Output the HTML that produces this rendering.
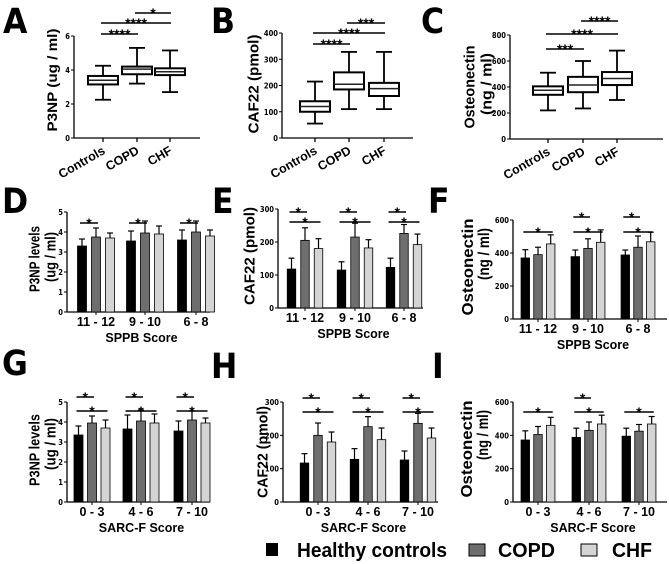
<!DOCTYPE html>
<html><head><meta charset="utf-8"><style>
body{margin:0;background:#fff;}
svg{display:block;font-family:"DejaVu Sans Condensed","Liberation Sans",sans-serif;}
.big{font-family:"DejaVu Sans Condensed","Liberation Sans",sans-serif;font-weight:bold;font-size:35px;}
.tk{font-size:7.5px;font-weight:bold;}
.xl{font-family:"Liberation Sans",sans-serif;font-size:12.5px;font-weight:bold;}
.yl{font-family:"Liberation Sans",sans-serif;font-weight:bold;}
.st{font-family:"Liberation Sans",sans-serif;font-size:14px;font-weight:bold;}
</style></head><body>
<svg id="fig" width="669" height="564" viewBox="0 0 669 564" xmlns="http://www.w3.org/2000/svg">
<text class="big" x="3" y="33">A</text>
<text class="big" x="211" y="33">B</text>
<text class="big" x="421" y="33">C</text>
<text class="big" x="2" y="213">D</text>
<text class="big" x="212" y="213">E</text>
<text class="big" x="428" y="213">F</text>
<text class="big" x="2" y="375">G</text>
<text class="big" x="211" y="378">H</text>
<text class="big" x="432" y="378">I</text>
<g font-family="'Liberation Sans',sans-serif" font-weight="bold" font-size="20">
<rect x="266" y="543" width="12" height="13" fill="#000"/>
<text x="297" y="557" textLength="150" lengthAdjust="spacingAndGlyphs">Healthy controls</text>
<rect x="469" y="544" width="16" height="12" fill="#6e6e6e" stroke="#000"/>
<text x="498" y="557" textLength="57" lengthAdjust="spacingAndGlyphs">COPD</text>
<rect x="581" y="544" width="16" height="12" fill="#d4d4d4" stroke="#000"/>
<text x="612" y="557" textLength="40" lengthAdjust="spacingAndGlyphs">CHF</text>
</g>
</svg>
<script>
// ---- box plot data: [whiskerLow, q1, median, q3, whiskerHigh]
const boxCats = ["Controls","COPD","CHF"];
const aBoxes = [[2.25,3.15,3.4,3.65,4.25],[3.2,3.75,4.05,4.2,5.3],[2.7,3.7,3.9,4.1,5.15]];
const bBoxes = [[55,100,120,140,215],[110,185,205,250,328],[110,160,188,210,328]];
const cBoxes = [[220,340,375,405,510],[235,360,415,478,600],[300,415,465,515,680]];
const aTicks = [0,2,4,6];
const bTicks = [0,100,200,300,400];
const cTicks = [0,200,400,600,800];
// ---- bar data per group: [controls, COPD, CHF]
const sppbCats = ["11 - 12","9 - 10","6 - 8"];
const sarcCats = ["0 - 3","4 - 6","7 - 10"];
const dMeans = [[3.3,3.75,3.7],[3.55,3.95,3.9],[3.6,4.0,3.8]];
const dErr = [[0.35,0.45,0.25],[0.5,0.6,0.4],[0.5,0.55,0.3]];
const eMeans = [[118,205,180],[115,215,182],[123,226,192]];
const eErr = [[33,38,30],[25,42,25],[28,27,32]];
const fMeans = [[370,390,455],[378,428,465],[388,435,468]];
const fErr = [[50,45,55],[40,58,75],[30,68,58]];
const gMeans = [[3.35,3.95,3.7],[3.65,4.05,3.95],[3.55,4.1,3.95]];
const gErr = [[0.45,0.35,0.4],[0.7,0.55,0.45],[0.5,0.45,0.25]];
const hMeans = [[117,200,180],[128,226,187],[126,236,192]];
const hErr = [[28,37,30],[32,30,35],[27,30,30]];
const iMeans = [[372,405,460],[388,430,468],[395,425,468]];
const iErr = [[55,48,48],[55,50,53],[48,40,45]];
const pTicks = [0,1,2,3,4,5];
const cafTicks = [0,100,200,300];
const ostTicks = [0,200,400,600];

const NS="http://www.w3.org/2000/svg";
const fig=document.getElementById('fig');
function mk(tag,attrs,parent,txt){const e=document.createElementNS(NS,tag);for(const k in attrs)e.setAttribute(k,attrs[k]);if(txt!==undefined)e.textContent=txt;(parent||fig).appendChild(e);return e;}

function axes(p,ticks,g){
  const y=v=>p.yb-v/p.ymax*(p.yb-p.yt);
  const ax=mk('line',{x1:p.x0,y1:p.yt,x2:p.x0,y2:p.yb,stroke:'#000','stroke-width':1.3},g);
  
  
  const bx=mk('line',{x1:p.x0,y1:p.yb,x2:p.x1,y2:p.yb,stroke:'#000','stroke-width':1.3},g);
  
  
  ticks.forEach(t=>{
    mk('line',{x1:p.x0-3,y1:y(t),x2:p.x0,y2:y(t),stroke:'#000','stroke-width':1},g);
    const tl=mk('text',{x:p.x0-4,y:y(t)+3,'text-anchor':'end',class:'tk'},g,t);
    
    
  });
  return y;
}
// labels: [text, centerX, centerY, length, fontSize]
function ylabel(g,labels){
  labels.forEach(L=>{
    const bx=L[1]+L[4]*0.36;
    const t=mk('text',{x:bx,y:L[2],class:'yl','font-size':L[4],'text-anchor':'middle',textLength:L[3],lengthAdjust:'spacingAndGlyphs',transform:`rotate(-90 ${bx} ${L[2]})`},g,L[0]);
    
    
  });
}
function sig(g,x1,x2,yy,stars){
  const l=mk('line',{x1:x1,y1:yy,x2:x2,y2:yy,stroke:'#000','stroke-width':1.6},g);
  
  
  const t=mk('text',{x:(x1+x2)/2,y:yy+5,'text-anchor':'middle',class:'st'},g,stars);
  
  
}
function boxPanel(name,p,boxes,ticks,cx,ylabs,sigs){
  const g=mk('g',{});
  
  
  const y=axes(p,ticks,g);
  ylabel(g,ylabs);
  boxes.forEach((b,i)=>{
    const x=cx[i],w=15;
    mk('line',{x1:x,y1:y(b[0]),x2:x,y2:y(b[4]),stroke:'#000','stroke-width':1.8},g);
    mk('line',{x1:x-8,y1:y(b[0]),x2:x+8,y2:y(b[0]),stroke:'#000','stroke-width':1.8},g);
    mk('line',{x1:x-8,y1:y(b[4]),x2:x+8,y2:y(b[4]),stroke:'#000','stroke-width':1.8},g);
    const r=mk('rect',{x:x-w,y:y(b[3]),width:2*w,height:y(b[1])-y(b[3]),fill:'#fff',stroke:'#000','stroke-width':2},g);
    
    
    mk('line',{x1:x-w,y1:y(b[2]),x2:x+w,y2:y(b[2]),stroke:'#222','stroke-width':1.5},g);
    mk('line',{x1:x,y1:p.yb,x2:x,y2:p.yb+4,stroke:'#000','stroke-width':1.3},g);
    const t=mk('text',{x:x+3,y:p.yb+15,'text-anchor':'end',class:'xl',transform:`rotate(-30 ${x+3} ${p.yb+15})`},g,boxCats[i]);
    
    
  });
  sigs.forEach(s=>sig(g,cx[s[0]]-2,cx[s[1]]+1,s[2],s[3]));
}
const fills=['#000','#6e6e6e','#d4d4d4'];
const grpNames=['controls','copd','chf'];
function barPanel(name,p,means,errs,cats,ticks,gx,bw,gap,ylabs,xtitle,sigs){
  const g=mk('g',{});
  
  
  const y=axes(p,ticks,g);
  ylabel(g,ylabs);
  const bxc=(gi,k)=>gx[gi]+(k-1)*gap;
  means.forEach((grp,gi)=>{
    grp.forEach((m,k)=>{
      const x=bxc(gi,k);
      mk('line',{x1:x,y1:y(m),x2:x,y2:y(m+errs[gi][k]),stroke:'#000','stroke-width':1.2},g);
      mk('line',{x1:x-3,y1:y(m+errs[gi][k]),x2:x+3,y2:y(m+errs[gi][k]),stroke:'#000','stroke-width':1.2},g);
      const r=mk('rect',{x:x-bw/2,y:y(m),width:bw,height:p.yb-y(m),fill:fills[k],stroke:'#000','stroke-width':0.8},g);
      
      
    });
    mk('line',{x1:gx[gi],y1:p.yb,x2:gx[gi],y2:p.yb+3,stroke:'#000'},g);
    const t=mk('text',{x:gx[gi],y:p.yb+14,'text-anchor':'middle',class:'xl','font-size':12.5},g,cats[gi]);
    
    
  });
  const xt=mk('text',{x:(p.x0+p.x1)/2+3,y:p.yb+30,'text-anchor':'middle',class:'xl','font-size':14},g,xtitle);
  
  
  sigs.forEach(s=>sig(g,bxc(s[0],0)-2,bxc(s[0],s[1])+2,s[2],'*'));
}
boxPanel('panel-a-p3np',{x0:74,x1:200,yt:36,yb:138,ymax:6},aBoxes,aTicks,[103,137,170],
  [['P3NP (ug / ml)',52,80,103,14]],
  [[0,1,34,'****'],[0,2,23,'****'],[1,2,13,'*']]);
boxPanel('panel-b-caf22',{x0:282,x1:413,yt:33,yb:138,ymax:400},bBoxes,bTicks,[315,349,384],
  [['CAF22 (pmol)',253,84,99,15]],
  [[0,1,44,'****'],[0,2,33,'****'],[1,2,23,'***']]);
boxPanel('panel-c-osteonectin',{x0:510,x1:663,yt:35,yb:139,ymax:800},cBoxes,cTicks,[548,583,617],
  [['Osteonectin',469,87,83,15],['(ng / ml)',486,84,62,15]],
  [[0,1,49,'***'],[0,2,34,'****'],[1,2,21,'****']]);
barPanel('panel-d-p3np-sppb',{x0:67,x1:210,yt:212,yb:312,ymax:5},dMeans,dErr,sppbCats,pTicks,[96,145,196],9,14,
  [['P3NP levels',34,259,66,15],['(ug / ml)',50,257,50,15]],'SPPB Score',
  [[0,1,223],[1,1,223],[2,1,223]]);
barPanel('panel-e-caf22-sppb',{x0:278,x1:423,yt:209,yb:308,ymax:300},eMeans,eErr,sppbCats,cafTicks,[305,355,404],8.5,13.5,
  [['CAF22 (pmol)',249,256,98,15]],'SPPB Score',
  [[0,1,212],[0,2,222],[1,1,212],[1,2,222],[2,1,212],[2,2,222]]);
barPanel('panel-f-osteonectin-sppb',{x0:513,x1:667,yt:220,yb:319,ymax:600},fMeans,fErr,sppbCats,ostTicks,[538,588,638],8.5,12.7,
  [['Osteonectin',467,267,97,16],['(ng / ml)',483,254,52,16]],'SPPB Score',
  [[0,2,232],[1,1,217],[1,2,232],[2,1,217],[2,2,232]]);
barPanel('panel-g-p3np-sarcf',{x0:67,x1:210,yt:402,yb:502,ymax:5},gMeans,gErr,sarcCats,pTicks,[92,141,192],9,13.5,
  [['P3NP levels',34,450,72,15],['(ug / ml)',50,444,52,15]],'SARC-F Score',
  [[0,1,397],[0,2,411],[1,1,397],[1,2,411],[2,1,397],[2,2,411]]);
barPanel('panel-h-caf22-sarcf',{x0:283,x1:438,yt:402,yb:502,ymax:300},hMeans,hErr,sarcCats,cafTicks,[318,368,418],8.5,13.5,
  [['CAF22 (pmol)',262,452,92,15]],'SARC-F Score',
  [[0,1,398],[0,2,412],[1,1,398],[1,2,412],[2,1,398],[2,2,412]]);
barPanel('panel-i-osteonectin-sarcf',{x0:513,x1:667,yt:402,yb:502,ymax:600},iMeans,iErr,sarcCats,ostTicks,[538,589,639],8.5,12.7,
  [['Osteonectin',466,449,97,16],['(ng / ml)',482,435,50,16]],'SARC-F Score',
  [[0,2,412],[1,1,398],[1,2,412],[2,2,412]]);
</script>
</body></html>
